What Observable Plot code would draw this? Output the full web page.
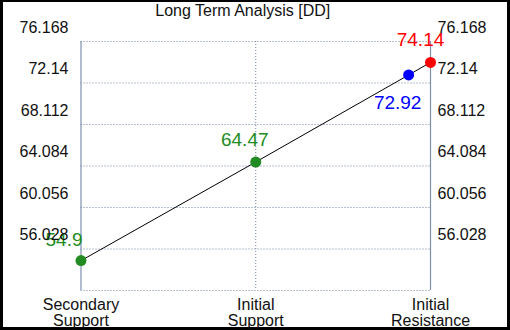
<!DOCTYPE html>
<html>
<head>
<meta charset="utf-8">
<script src="https://cdn.jsdelivr.net/npm/d3@7"></script>
<script src="https://cdn.jsdelivr.net/npm/@observablehq/plot@0.6"></script>
<style>
  body { margin: 0; background: #000; }
  #wrap { position: relative; width: 510px; height: 330px; background: #000; overflow: hidden; }
  #wrap svg { position: absolute; left: 3px; top: 2px; }
</style>
</head>
<body>
<div id="wrap"></div>
<script>
// ---- data ----
const title = "Long Term Analysis [DD]";
const categories = ["Secondary\nSupport", "Initial\nSupport", "Initial\nResistance"];
const categoryX = [0, 1, 2];
const yTicks = [56.028, 60.056, 64.084, 68.112, 72.14, 76.168];
const yMin = 52.0;
const pointNames = ["Secondary Support", "Initial Support", "Current", "Initial Resistance"];
const pointX = [0, 1, 1.875, 2];
const pointValues = [54.9, 64.47, 72.92, 74.14];
const pointColors = ["#228B22", "#228B22", "#0000FF", "#FF0000"];

const pts = pointValues.map((v, i) => ({name: pointNames[i], x: pointX[i], y: v, color: pointColors[i]}));
const cats = categories.map((c, i) => ({label: c, x: categoryX[i]}));
const font = "'Liberation Sans', Arial, Helvetica, sans-serif";
const gridColor = "#6f82a0";
const axisColor = "#7d90ae";

const labelMark = (i, dx, dy) => Plot.text([pts[i]], {
  x: "x", y: "y", text: d => String(d.y), fill: d => d.color,
  fontSize: 19, textAnchor: "middle", lineAnchor: "middle", dx, dy
});

const chart = Plot.plot({
  width: 504,
  height: 325,
  marginLeft: 77.5,
  marginRight: 77,
  marginTop: 39,
  marginBottom: 37,
  x: {domain: [0, 2], axis: null},
  y: {domain: [yMin, yTicks[yTicks.length - 1]], axis: null},
  color: {type: "identity"},
  style: {background: "#fff", color: "#111", fontFamily: font, fontSize: "16px", overflow: "visible"},
  marks: [
    Plot.ruleY([yMin, ...yTicks], {stroke: gridColor, strokeDasharray: "1,2", strokeWidth: 1}),
    Plot.ruleX([1], {stroke: gridColor, strokeDasharray: "1,2", strokeWidth: 1}),
    Plot.ruleX([0, 2], {stroke: axisColor, strokeWidth: 1.2}),
    Plot.line(pts, {x: "x", y: "y", stroke: "#000", strokeWidth: 1}),
    Plot.dot(pts, {x: "x", y: "y", fill: "color", r: 5.5, stroke: null}),
    labelMark(0, -17, -21),
    labelMark(1, -11, -22),
    labelMark(2, -11, 28),
    labelMark(3, -10, -22),
    Plot.text(yTicks, {y: d => d, text: d => String(d), frameAnchor: "left", textAnchor: "end", dx: -12.5, dy: -14, fontSize: 16, fill: "#111"}),
    Plot.text(yTicks, {y: d => d, text: d => String(d), frameAnchor: "right", textAnchor: "start", dx: 7, dy: -14, fontSize: 16, fill: "#111"}),
    Plot.text(cats, {x: "x", text: "label", frameAnchor: "bottom", lineAnchor: "top", textAnchor: "middle", dy: 8.5, lineHeight: 1.0, fontSize: 16, fill: "#111"}),
    Plot.text([title], {frameAnchor: "top", text: d => d, lineAnchor: "bottom", textAnchor: "middle", dx: -13, dy: -26, fontSize: 16, fill: "#111"})
  ]
});
document.getElementById("wrap").appendChild(chart);
</script>
</body>
</html>
